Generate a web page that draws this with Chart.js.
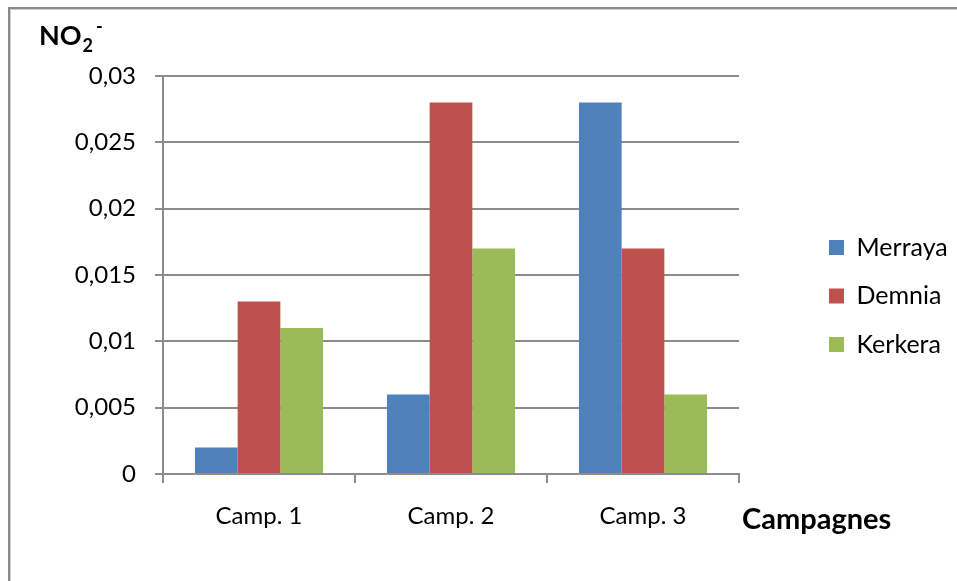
<!DOCTYPE html>
<html>
<head>
<meta charset="utf-8">
<title>NO2- par campagne</title>
<script src="https://cdn.jsdelivr.net/npm/chart.js@4.4.1/dist/chart.umd.min.js"></script>
<style>
  html, body { margin: 0; padding: 0; background: #fff; overflow: hidden; }
  #frame {
    position: absolute; left: 8px; top: 7px; width: 2000px; height: 2000px;
    border-top: 2px solid #8a8a8a; border-left: 2px solid #8a8a8a;
    box-shadow: inset 1px 1px 0 #cfcfcf;
  }
  #wrap { position: absolute; left: 0; top: 0; width: 957px; height: 581px; }
</style>
</head>
<body>
<div id="frame"></div>
<div id="wrap"><canvas id="chart" width="957" height="581"></canvas></div>
<script>
// Sampling campaigns and NO2- concentration per station
const categories = ['Camp. 1', 'Camp. 2', 'Camp. 3'];
const merraya = [0.002, 0.006, 0.028];
const demnia  = [0.013, 0.028, 0.017];
const kerkera = [0.011, 0.017, 0.006];

// Value axis ticks
const yTickValues = [0, 0.005, 0.01, 0.015, 0.02, 0.025, 0.03];
const yTickLabels = ['0', '0,005', '0,01', '0,015', '0,02', '0,025', '0,03'];

const GRID = '#8c8c8c';
const FONT = 'Lato';

// Places the legend to the right of the plot, centred on its middle row
const legendPlacement = {
  id: 'legendPlacement',
  afterLayout(chart) {
    const lg = chart.legend;
    const a = chart.chartArea;
    const pad = lg.options.labels.padding;
    const w = lg.width, h = lg.height;
    lg.left = a.right + 90 - pad;
    lg.right = lg.left + w;
    const mid = (a.top + a.bottom) / 2 + 21;
    lg.top = mid - h / 2;
    lg.bottom = mid + h / 2;
  }
};

// Axis captions: NO2- above the value axis, "Campagnes" after the category axis
const axisCaptions = {
  id: 'axisCaptions',
  afterDraw(chart) {
    const ctx = chart.ctx;
    const a = chart.chartArea;
    ctx.save();
    ctx.fillStyle = '#000';
    ctx.textBaseline = 'alphabetic';
    ctx.textAlign = 'left';

    // NO2- : main text, subscript 2, superscript minus
    let x = 39, base = 45;
    ctx.font = 'bold 27px ' + FONT;
    ctx.fillText('NO', x, base);
    x += ctx.measureText('NO').width + 1;
    ctx.font = 'bold 18px ' + FONT;
    ctx.fillText('2', x, base + 7);
    x += ctx.measureText('2').width + 3;
    ctx.fillText('-', x, base - 12);

    // Category axis caption
    ctx.font = 'bold 29px ' + FONT;
    ctx.fillText('Campagnes', a.right + 3, a.bottom + 55);
    ctx.restore();
  }
};

function draw() {
  Chart.defaults.font.family = FONT;
  Chart.defaults.color = '#000';

  new Chart(document.getElementById('chart'), {
    type: 'bar',
    data: {
      labels: categories,
      datasets: [
        { label: 'Merraya', data: merraya, backgroundColor: '#4F81BD' },
        { label: 'Demnia',  data: demnia,  backgroundColor: '#C0504D' },
        { label: 'Kerkera', data: kerkera, backgroundColor: '#9BBB59' }
      ]
    },
    options: {
      responsive: false,
      animation: false,
      devicePixelRatio: 1,
      layout: { padding: { left: 0, top: 76, right: 218, bottom: 0 } },
      datasets: { bar: { categoryPercentage: 0.667, barPercentage: 1.0 } },
      scales: {
        x: {
          offset: true,
          grid: {
            display: true, drawOnChartArea: false, drawTicks: true,
            tickLength: 9, color: GRID, lineWidth: 2, offset: true
          },
          border: { display: true, color: GRID, width: 2 },
          ticks: { font: { size: 24 }, padding: 19, maxRotation: 0, color: '#000' },
          afterFit(s) { s.height = 107; }
        },
        y: {
          min: 0, max: 0.03,
          afterBuildTicks(s) { s.ticks = yTickValues.map(v => ({ value: v })); },
          grid: { color: GRID, lineWidth: 2, tickLength: 8, drawTicks: true },
          border: { display: true, color: GRID, width: 2 },
          ticks: {
            font: { size: 24 }, padding: 19, color: '#000',
            callback: (v, i) => yTickLabels[i]
          },
          afterFit(s) { s.width = 163; }
        }
      },
      plugins: {
        legend: {
          position: 'chartArea',
          labels: {
            boxWidth: 15, boxHeight: 15, padding: 23.5,
            font: { size: 25 }, color: '#000'
          }
        },
        tooltip: { enabled: false },
        title: { display: false }
      }
    },
    plugins: [legendPlacement, axisCaptions]
  });
}

Promise.all([
  document.fonts.load('24px Lato'),
  document.fonts.load('bold 27px Lato')
]).then(draw, draw);
</script>
</body>
</html>
